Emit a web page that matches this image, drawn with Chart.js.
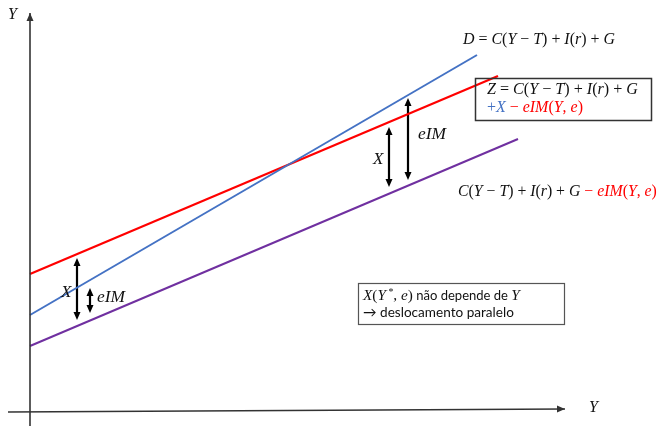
<!DOCTYPE html>
<html>
<head>
<meta charset="utf-8">
<script src="https://cdn.jsdelivr.net/npm/chart.js@4.4.1/dist/chart.umd.min.js"></script>
<style>
html,body{margin:0;padding:0;background:#fff;}
#wrap{width:659px;height:426px;}
</style>
</head>
<body>
<div id="wrap"><canvas id="c" width="659" height="426"></canvas></div>
<script>
// ---- data (conceptual units: income Y on x, demand on y) ----
const dX = [0, 447];          // D = C(Y-T)+I(r)+G
const dVals = [97, 357];
const zX = [0, 468];          // Z = D + X - eIM
const zVals = [138, 336];
const cX = [0, 488];          // C+I+G - eIM
const cVals = [66, 273];
const xAxisX = [-22, 535];    // horizontal axis
const xAxisY = [0, 3];
const yAxisX = [0, 0];        // vertical axis
const yAxisY = [-14, 399];
const arrowX = [47, 60, 359, 378];
const arrowTop = [154, 124, 285, 314];
const arrowBottom = [92, 99, 225, 232];
const arrowLabels = ['X', 'eIM', 'X', 'eIM'];

const BLUE = '#4472C4', RED = '#FF0000', PURPLE = '#7030A0', AX = '#333333';

function pts(xs, ys){ return xs.map((x,i)=>({x:x, y:ys[i]})); }

const datasets = [
  {data: pts(xAxisX, xAxisY), borderColor: AX, borderWidth: 1.6},
  {data: pts(yAxisX, yAxisY), borderColor: AX, borderWidth: 1.6},
  {data: pts(dX, dVals), borderColor: BLUE, borderWidth: 2},
  {data: pts(zX, zVals), borderColor: RED, borderWidth: 2.2},
  {data: pts(cX, cVals), borderColor: PURPLE, borderWidth: 2},
];
arrowX.forEach((x,i)=>{
  datasets.push({data: pts([x,x],[arrowTop[i]-6, arrowBottom[i]+6]), borderColor:'#000', borderWidth: 2.2});
});

const MATH = 'italic {s}px "Liberation Serif"';
const UP = '{s}px "Liberation Serif"';
const SANS = '{s}px Lato';

function font(f, s){ return f.replace('{s}', s); }

// draw runs of text, fitted to a target width
function drawRuns(ctx, runs, x, y, w, base){
  let total = 0;
  runs.forEach(r=>{ ctx.font = font(r.f, r.s || base); total += ctx.measureText(r.t).width; });
  const k = w ? w / total : 1;
  let cx = x;
  ctx.textBaseline = 'middle';
  ctx.textAlign = 'left';
  runs.forEach(r=>{
    ctx.font = font(r.f, (r.s || base) * k);
    ctx.fillStyle = r.c || '#111';
    ctx.fillText(r.t, cx, y + (r.dy || 0));
    cx += ctx.measureText(r.t).width;
  });
}
function m(t,c,s){ return {t:t, f:MATH, c:c, s:s}; }
function u(t,c,s,dy){ return {t:t, f:UP, c:c, s:s, dy:dy}; }
function sa(t,c,s){ return {t:t, f:SANS, c:c, s:s}; }

const deco = {
  id: 'deco',
  afterDatasetsDraw(chart){
    const ctx = chart.ctx, xs = chart.scales.x, ys = chart.scales.y;
    const px = v=>xs.getPixelForValue(v), py = v=>ys.getPixelForValue(v);
    ctx.save();
    function head(x, y, dir, color, w, h){
      ctx.fillStyle = color;
      ctx.beginPath();
      ctx.moveTo(x, y);
      ctx.lineTo(x - w/2, y - dir*h);
      ctx.lineTo(x + w/2, y - dir*h);
      ctx.closePath();
      ctx.fill();
    }
    arrowX.forEach((x,i)=>{
      head(px(x), py(arrowTop[i]), -1, '#000', 7, 8);
      head(px(x), py(arrowBottom[i]), 1, '#000', 7, 8);
    });
    head(px(yAxisX[1]), py(yAxisY[1]), -1, AX, 7, 8);
    const ax = px(xAxisX[1]), ay = py(xAxisY[1]);
    ctx.fillStyle = AX;
    ctx.beginPath();
    ctx.moveTo(ax, ay); ctx.lineTo(ax-8, ay-3.5); ctx.lineTo(ax-8, ay+3.5); ctx.closePath(); ctx.fill();

    // axis labels
    drawRuns(ctx, [m('Y')], 8, 15, 0, 16);
    drawRuns(ctx, [m('Y')], 589, 408, 0, 16);

    // D equation
    drawRuns(ctx, [m('D'),u(' = '),m('C'),u('('),m('Y'),u(' − '),m('T'),u(') + '),m('I'),u('('),m('r'),u(') + '),m('G')], 463, 40, 152, 16);

    // Z box
    ctx.strokeStyle = '#333'; ctx.lineWidth = 1.5;
    ctx.strokeRect(475.5, 78.5, 176, 42);
    drawRuns(ctx, [m('Z'),u(' = '),m('C'),u('('),m('Y'),u(' − '),m('T'),u(') + '),m('I'),u('('),m('r'),u(') + '),m('G')], 487, 90, 151, 16);
    drawRuns(ctx, [u('+',BLUE),m('X',BLUE),u(' − ',RED),m('eIM',RED),u('(',RED),m('Y',RED),u(', ',RED),m('e',RED),u(')',RED)], 487, 108, 96, 16);

    // C+I+G-eIM equation
    drawRuns(ctx, [m('C'),u('('),m('Y'),u(' − '),m('T'),u(') + '),m('I'),u('('),m('r'),u(') + '),m('G'),u(' − ',RED),m('eIM',RED),u('(',RED),m('Y',RED),u(', ',RED),m('e',RED),u(')',RED)], 458, 192, 199, 16);

    // arrow labels
    drawRuns(ctx, [m('X')], 61, 293, 0, 17);
    drawRuns(ctx, [m('eIM')], 97, 297, 28, 16);
    drawRuns(ctx, [m('X')], 373, 160, 0, 17);
    drawRuns(ctx, [m('eIM')], 418, 134, 28, 16);

    // note box
    ctx.strokeStyle = '#555'; ctx.lineWidth = 1.2;
    ctx.strokeRect(358.5, 283.5, 206, 41);
    drawRuns(ctx, [m('X',null,17),u('(',null,17),m('Y',null,17),u(' *',null,11,-4),u(', ',null,17),m('e',null,17),u(')',null,17),sa(' não depende de ',null,14.5),m('Y',null,17)], 363, 296, 157, 14);
    drawRuns(ctx, [sa('→ deslocamento paralelo')], 363, 313, 151, 14);
    ctx.restore();
  }
};

new Chart(document.getElementById('c'), {
  type: 'scatter',
  data: {datasets: datasets},
  options: {
    responsive: false,
    devicePixelRatio: 1,
    animation: false,
    layout: {padding: 0},
    elements: {point: {radius: 0, hoverRadius: 0}, line: {tension: 0}},
    datasets: {scatter: {showLine: true, fill: false}},
    plugins: {legend: {display: false}, tooltip: {enabled: false}},
    scales: {
      x: {type: 'linear', min: -30, max: 629, display: false},
      y: {type: 'linear', min: -14, max: 412, display: false}
    }
  },
  plugins: [deco]
});
</script>
</body>
</html>
